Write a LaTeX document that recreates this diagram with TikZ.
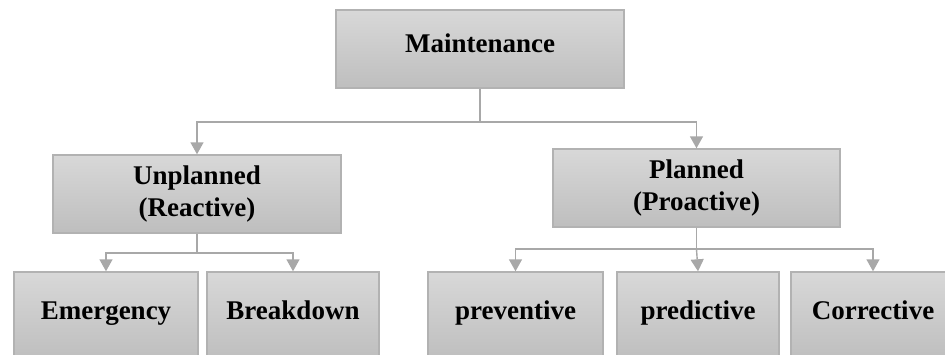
\documentclass[tikz,border=0pt]{standalone}
\usepackage{fontspec}
\setmainfont{Liberation Serif}
\usetikzlibrary{arrows.meta}
\definecolor{boxtop}{HTML}{D8D8D8}
\definecolor{boxbot}{HTML}{BEBEBE}
\definecolor{boxline}{HTML}{B2B2B2}
\definecolor{linkgray}{HTML}{A8A8A8}
\begin{document}
\begin{tikzpicture}[x=1pt,y=-1pt,
  box/.style={draw=boxline, line width=1.4pt, top color=boxtop, bottom color=boxbot,
    rectangle, inner sep=0pt, font=\fontsize{27}{32}\selectfont\bfseries,
    align=center, text height=0.66em, text depth=0pt},
  twoline/.style={text height=, text depth=},
  conn/.style={draw=linkgray, line width=1.4pt,
    -{Triangle[width=13pt,length=12pt]}, fill=none}]
  \path[use as bounding box, clip] (0,0) rectangle (945,354);

  % top level
  \node[box, minimum width=288pt, minimum height=78pt] (m) at (480,49) {Maintenance};

  % second level
  \node[box, twoline, minimum width=288pt, minimum height=78pt] (u) at (197,194) {Unplanned\\(Reactive)};
  \node[box, twoline, minimum width=287pt, minimum height=78pt] (p) at (696.5,188) {Planned\\(Proactive)};

  % third level
  \node[box, minimum width=184pt, minimum height=88pt] (e)  at (106,316)   {Emergency};
  \node[box, minimum width=172pt, minimum height=88pt] (b)  at (293,316)   {Breakdown};
  \node[box, minimum width=175pt, minimum height=88pt] (pv) at (515.5,316) {preventive};
  \node[box, minimum width=162pt, minimum height=88pt] (pd) at (698,316)   {predictive};
  \node[box, minimum width=164pt, minimum height=88pt] (c)  at (873,316)   {Corrective};

  % junction points of the connectors
  \coordinate (mj) at (480,122);
  \coordinate (uj) at (197,253);
  \coordinate (pj) at (696.5,249);

  \draw[draw=linkgray, line width=1.4pt] (m.south) -- (mj);
  \draw[conn] (mj) -| (u.north);
  \draw[conn] (mj) -| (p.north);

  \draw[draw=linkgray, line width=1.4pt] (u.south) -- (uj);
  \draw[conn] (uj) -| (e.north);
  \draw[conn] (uj) -| (b.north);

  \draw[draw=linkgray, line width=1.4pt] (p.south) -- (pj);
  \draw[conn] (pj) -| (pv.north);
  \draw[conn] (pj) -- (pd.north);
  \draw[conn] (pj) -| (c.north);
\end{tikzpicture}
\end{document}
